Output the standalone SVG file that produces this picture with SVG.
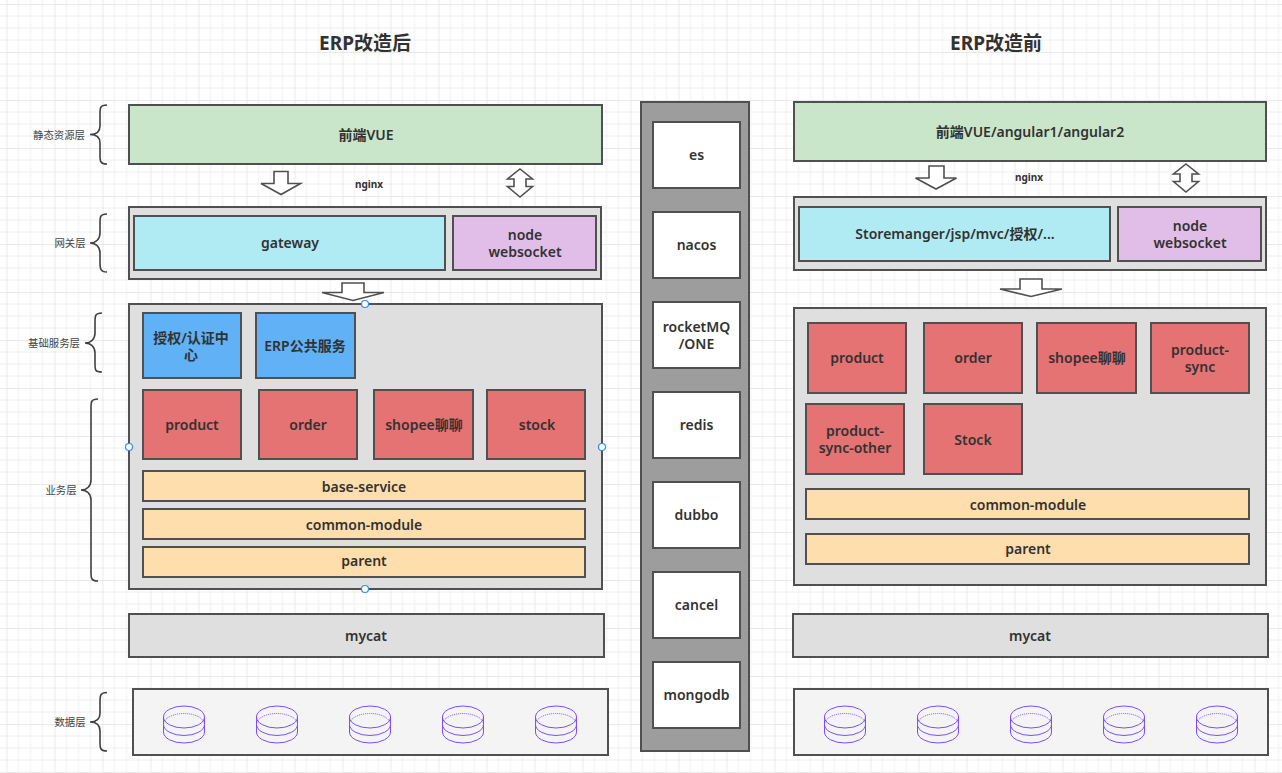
<svg xmlns="http://www.w3.org/2000/svg" width="1282" height="773" viewBox="0 0 1282 773">
<style>
text{font-family:"Noto Sans","Noto Sans CJK SC",sans-serif;fill:#323232;text-anchor:middle;dominant-baseline:central}
.t{font-size:14px;font-weight:600}
.h{font-size:19px;font-weight:700}
.s{font-size:10.4px;fill:#444}
.n{font-size:10px;font-weight:700}
rect{stroke:#505050;stroke-width:2}
rect.bg{stroke:none}
.g{fill:#dfdfdf}.gr{fill:#c9e6ca}.c{fill:#b0ebf3}.p{fill:#e1bee7}.b{fill:#61b1f6}.r{fill:#e57373}.o{fill:#ffdead}.w{fill:#fff}.l{fill:#f4f4f4}
.a{fill:#fff;stroke:#505050;stroke-width:1.6}
.br{fill:none;stroke:#404040;stroke-width:1.6}
.h1{fill:#fff;stroke:#2a8cff;stroke-width:1.2}
.d{fill:none;stroke:#7c4dff;stroke-width:1}
</style>
<defs>
<pattern id="grid" width="48" height="48" patternUnits="userSpaceOnUse" patternTransform="translate(6.5 4)">
<path d="M12 0V48M24 0V48M36 0V48M0 12H48M0 24H48M0 36H48" fill="none" stroke="#eeeeee" stroke-width="1"/>
<path d="M0 0V48M0 0H48" fill="none" stroke="#e2e2e2" stroke-width="1.4"/>
</pattern>
<g id="db"><ellipse class="d" cx="0" cy="-7.5" rx="20.5" ry="11"/><path class="d" stroke-dasharray="1 1" d="M-20.5 0A20.5 11 0 0 1 20.5 0"/><path class="d" d="M-20.5 -7.5V0A20.5 11 0 0 0 20.5 0V-7.5M-20.5 0V7.5A20.5 11 0 0 0 20.5 7.5V0"/></g>
</defs>
<rect class="bg" width="1282" height="773" fill="#fff"/>
<rect class="bg" width="1282" height="773" fill="url(#grid)"/>

<text class="h" x="365" y="43">ERP改造后</text>
<text class="h" x="996" y="43">ERP改造前</text>

<g id="connectors">
<path class="a" d="M274 171.500H288V183.500H300.500L281 194.500L261 183.500H274Z"/>
<path class="a" d="M520 169L532.500 179H526V186.500H532.500L520 197L507.500 186.500H514V179H507.500Z"/>
<path class="a" d="M342 283H364V292.500H384L353 300.500L322 292.500H342Z"/>
<path class="a" d="M929 166H944V178H956.500L936 189L915.500 178H929Z"/>
<path class="a" d="M1186 164L1198.500 174H1192V181.500H1198.500L1186 192L1173.500 181.500H1180V174H1173.500Z"/>
<path class="a" d="M1020 279H1042V289H1062L1031 296.500L1000 289H1020Z"/>
<path class="br" d="M107 105C100 105 100 108 100 114V126C100 132 96 134.500 90 134.500C96 134.500 100 137 100 143V155C100 161 100 164 107 164"/>
<path class="br" d="M107 214C100 214 100 217 100 223V233C100 239 96 243 90 243C96 243 100 247 100 253V262C100 268 100 272 107 272"/>
<path class="br" d="M102 313C95 313 95 316 95 322V333C95 339 91 343 85 343C91 343 95 347 95 353V364C95 370 95 372 102 372"/>
<path class="br" d="M98 399C91 399 91 402 91 408V480C91 486 87 490 81 490C87 490 91 494 91 500V572C91 578 91 581 98 581"/>
<path class="br" d="M107 692.500C100 692.500 100 696 100 702V713C100 719 96 722 90 722C96 722 100 725 100 731V742C100 748 100 751 107 751"/>
</g>

<g id="left-static"><rect class="gr" x="129" y="105" width="473" height="59"/><text class="t" x="366" y="134">前端VUE</text></g>
<text class="n" x="369" y="184">nginx</text>
<g id="left-gateway"><rect class="g" x="129" y="207" width="472" height="72"/></g>
<g id="gateway"><rect class="c" x="134" y="216" width="311" height="54"/><text class="t" x="290" y="242">gateway</text></g>
<g id="node-ws-l"><rect class="p" x="453" y="216" width="143" height="54"/><text class="t" x="525" y="234">node</text><text class="t" x="525" y="251">websocket</text></g>
<g id="left-services"><rect class="g" x="129" y="304" width="473" height="285"/></g>
<g id="auth"><rect class="b" x="143" y="313" width="98" height="65"/><text class="t" x="191" y="337">授权/认证中</text><text class="t" x="191" y="354">心</text></g>
<g id="erp-public"><rect class="b" x="256" y="313" width="99" height="65"/><text class="t" x="305" y="345">ERP公共服务</text></g>
<g id="l-product"><rect class="r" x="143" y="390" width="98" height="69"/><text class="t" x="192" y="424">product</text></g>
<g id="l-order"><rect class="r" x="259" y="390" width="98" height="69"/><text class="t" x="308" y="424">order</text></g>
<g id="l-shopee"><rect class="r" x="374" y="390" width="99" height="69"/><text class="t" x="424" y="424">shopee聊聊</text></g>
<g id="l-stock"><rect class="r" x="487" y="390" width="98" height="69"/><text class="t" x="537" y="424">stock</text></g>
<g id="l-base"><rect class="o" x="143" y="471" width="442" height="30"/><text class="t" x="364" y="486">base-service</text></g>
<g id="l-common"><rect class="o" x="143" y="509" width="442" height="30"/><text class="t" x="364" y="524">common-module</text></g>
<g id="l-parent"><rect class="o" x="143" y="547" width="442" height="30"/><text class="t" x="364" y="560">parent</text></g>
<g id="handles"><circle class="h1" cx="365" cy="304" r="3.500"/><circle class="h1" cx="129" cy="447" r="3.500"/><circle class="h1" cx="602" cy="447" r="3.500"/><circle class="h1" cx="365" cy="589" r="3.500"/></g>
<g id="l-mycat"><rect class="g" x="129" y="614" width="475" height="43"/><text class="t" x="366" y="635">mycat</text></g>
<g id="l-data"><rect class="l" x="133" y="689" width="475" height="66"/>
<use href="#db" x="184" y="724.500"/><use href="#db" x="277" y="724.500"/><use href="#db" x="370" y="724.500"/><use href="#db" x="463" y="724.500"/><use href="#db" x="556" y="724.500"/></g>

<g id="labels">
<text class="s" x="59" y="135">静态资源层</text>
<text class="s" x="70" y="243">网关层</text>
<text class="s" x="54" y="343">基础服务层</text>
<text class="s" x="61" y="490">业务层</text>
<text class="s" x="70" y="722">数据层</text>
</g>

<g id="middle"><rect x="641" y="102" width="108" height="649" fill="#9d9d9d"/></g>
<g id="m-es"><rect class="w" x="653" y="122" width="87" height="66"/><text class="t" x="696.500" y="154">es</text></g>
<g id="m-nacos"><rect class="w" x="653" y="212" width="87" height="66"/><text class="t" x="696.500" y="244">nacos</text></g>
<g id="m-rocket"><rect class="w" x="653" y="302" width="87" height="66"/><text class="t" x="696.500" y="326">rocketMQ</text><text class="t" x="696.500" y="343">/ONE</text></g>
<g id="m-redis"><rect class="w" x="653" y="392" width="87" height="66"/><text class="t" x="696.500" y="424">redis</text></g>
<g id="m-dubbo"><rect class="w" x="653" y="482" width="87" height="66"/><text class="t" x="696.500" y="514">dubbo</text></g>
<g id="m-cancel"><rect class="w" x="653" y="572" width="87" height="66"/><text class="t" x="696.500" y="604">cancel</text></g>
<g id="m-mongo"><rect class="w" x="653" y="662" width="87" height="66"/><text class="t" x="696.500" y="694">mongodb</text></g>

<g id="right-static"><rect class="gr" x="794" y="102" width="472" height="59"/><text class="t" x="1030" y="131">前端VUE/angular1/angular2</text></g>
<text class="n" x="1029" y="177">nginx</text>
<g id="right-gateway"><rect class="g" x="794" y="197" width="472" height="73"/></g>
<g id="storemanger"><rect class="c" x="799" y="207" width="311" height="54"/><text class="t" x="955" y="233">Storemanger/jsp/mvc/授权/...</text></g>
<g id="node-ws-r"><rect class="p" x="1118" y="207" width="143" height="54"/><text class="t" x="1190" y="225">node</text><text class="t" x="1190" y="242">websocket</text></g>
<g id="right-services"><rect class="g" x="794" y="308" width="472" height="277"/></g>
<g id="r-product"><rect class="r" x="808" y="323" width="98" height="70"/><text class="t" x="857" y="357">product</text></g>
<g id="r-order"><rect class="r" x="924" y="323" width="98" height="70"/><text class="t" x="973" y="357">order</text></g>
<g id="r-shopee"><rect class="r" x="1037" y="323" width="99" height="70"/><text class="t" x="1087" y="357">shopee聊聊</text></g>
<g id="r-sync"><rect class="r" x="1151" y="323" width="98" height="70"/><text class="t" x="1200" y="349">product-</text><text class="t" x="1200" y="366">sync</text></g>
<g id="r-sync-other"><rect class="r" x="806" y="404" width="98" height="70"/><text class="t" x="855" y="430">product-</text><text class="t" x="855" y="447">sync-other</text></g>
<g id="r-stock"><rect class="r" x="924" y="404" width="98" height="70"/><text class="t" x="973" y="439">Stock</text></g>
<g id="r-common"><rect class="o" x="806" y="489" width="443" height="30"/><text class="t" x="1028" y="504">common-module</text></g>
<g id="r-parent"><rect class="o" x="806" y="534" width="443" height="30"/><text class="t" x="1028" y="548">parent</text></g>
<g id="r-mycat"><rect class="g" x="793" y="614" width="475" height="43"/><text class="t" x="1030" y="635">mycat</text></g>
<g id="r-data"><rect class="l" x="794" y="689" width="474" height="66"/>
<use href="#db" x="845" y="724.500"/><use href="#db" x="938" y="724.500"/><use href="#db" x="1031" y="724.500"/><use href="#db" x="1124" y="724.500"/><use href="#db" x="1217" y="724.500"/></g>
</svg>
